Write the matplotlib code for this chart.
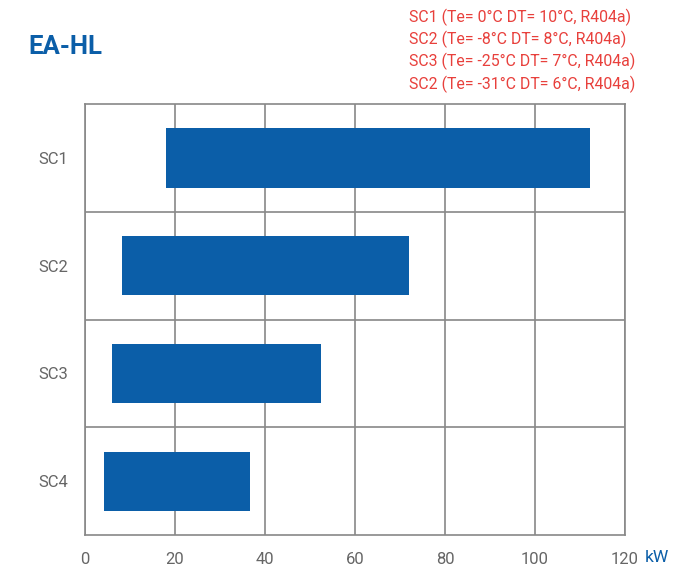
import numpy as np
import matplotlib as mpl
mpl.use("Agg")
import matplotlib.pyplot as plt

# data
rows = ["SC1", "SC2", "SC3", "SC4"]
kw_min = [18.0, 8.2, 6.0, 4.2]
kw_max = [112.3, 72.0, 52.4, 36.7]
xticks = [0, 20, 40, 60, 80, 100, 120]
legend_lines = ["SC1 (Te= 0°C DT= 10°C, R404a)",
                "SC2 (Te= -8°C DT= 8°C, R404a)",
                "SC3 (Te= -25°C DT= 7°C, R404a)",
                "SC2 (Te= -31°C DT= 6°C, R404a)"]

fam = ["Roboto", "DejaVu Sans"]
plt.rcParams['font.family'] = fam

blue = "#0b5ea8"
red = "#e8403c"
grey = "#888888"

fig = plt.figure(figsize=(6.98, 5.74), dpi=100)
ax = fig.add_axes([0.1218, 0.0679, 0.7736, 0.7509])

y = np.arange(len(rows))
widths = np.array(kw_max) - np.array(kw_min)
ax.barh(y, widths, left=kw_min, height=0.55, color=blue, zorder=3)

ax.set_xlim(0, 120)
ax.set_ylim(len(rows) - 0.5, -0.5)
ax.set_xticks(xticks)
ax.set_yticks(y)
ax.set_yticklabels(rows)
ax.set_yticks(np.arange(len(rows) - 1) + 0.5, minor=True)
ax.grid(True, axis="x", color=grey, lw=1.2, zorder=1)
ax.grid(True, axis="y", which="minor", color=grey, lw=1.2, zorder=1)
ax.tick_params(which="both", length=0)
ax.tick_params(axis="x", pad=12, labelsize=12, labelcolor="#666666")
ax.tick_params(axis="y", pad=12, labelsize=12, labelcolor="#666666")
for s in ax.spines.values():
    s.set_color(grey)
    s.set_linewidth(1.2)

fig.text(645 / 698, 1 - 557 / 574, "kW", color=blue, fontsize=12.5, va="center", ha="left")
fig.text(28 / 698, 1 - 47 / 574, "EA-HL", color=blue, fontsize=18.5, fontweight="bold",
         va="center", ha="left")
for i, t in enumerate(legend_lines):
    fig.text(409 / 698, 1 - (17 + 22.3 * i) / 574, t, color=red, fontsize=11.4,
             va="center", ha="left")

plt.savefig("out.png", dpi=100)
plt.close()
